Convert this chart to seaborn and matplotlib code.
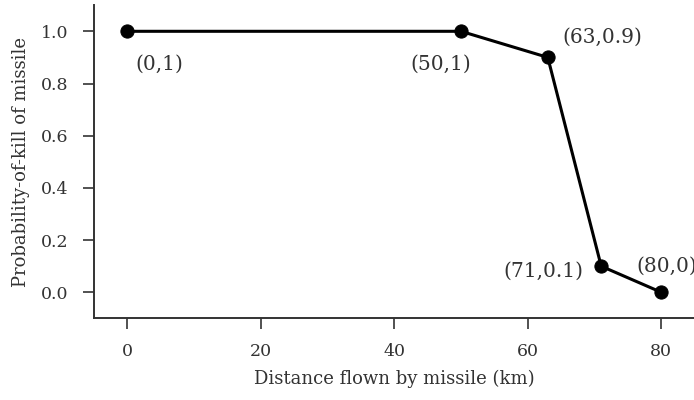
import matplotlib
matplotlib.use("Agg")
import matplotlib.pyplot as plt
import seaborn as sns

# distance flown (km) and probability of kill
distance = [0, 50, 63, 71, 80]
pkill = [1, 1, 0.9, 0.1, 0]
point_labels = ["(0,1)", "(50,1)", "(63,0.9)", "(71,0.1)", "(80,0)"]
# where each label sits relative to its point (pixels) and alignment
label_offsets = [(8, -33), (10, -33), (15, 20), (-18, -5), (-25, 26)]
label_ha = ["left", "right", "left", "right", "left"]

sns.set_theme(style="ticks")
plt.rcParams["font.family"] = ["DejaVu Serif"]
plt.rcParams["text.color"] = "#333333"
plt.rcParams["axes.edgecolor"] = "#333333"
plt.rcParams["xtick.color"] = "#333333"
plt.rcParams["ytick.color"] = "#333333"
plt.rcParams["axes.labelcolor"] = "#333333"

fig = plt.figure(figsize=(6.94, 4.0), dpi=100)
ax = fig.add_axes([0.135, 0.204, 0.866, 0.783])

sns.lineplot(x=distance, y=pkill, ax=ax, color="black", linewidth=2.2,
             marker="o", markersize=9.5, markeredgecolor="black")

for x, y, lab, off, ha in zip(distance, pkill, point_labels, label_offsets, label_ha):
    ax.annotate(lab, (x, y), xytext=off, textcoords="offset pixels",
                ha=ha, va="center", fontsize=14.5, color="#333333",
                annotation_clip=False)

ax.set_xlim(-5, 85)
ax.set_ylim(-0.1, 1.1)
ax.set_xticks([0, 20, 40, 60, 80])
ax.set_yticks([0.0, 0.2, 0.4, 0.6, 0.8, 1.0])
ax.set_yticklabels(["0.0", "0.2", "0.4", "0.6", "0.8", "1.0"])
ax.set_xlabel("Distance flown by missile (km)", fontsize=13, labelpad=7)
ax.set_ylabel("Probability-of-kill of missile", fontsize=13, labelpad=8)
ax.tick_params(axis="both", labelsize=12.5, length=8, width=1.2, pad=10)
for s in ["left", "bottom"]:
    ax.spines[s].set_linewidth(1.4)
sns.despine(ax=ax)

fig.savefig("out.png", dpi=100)
